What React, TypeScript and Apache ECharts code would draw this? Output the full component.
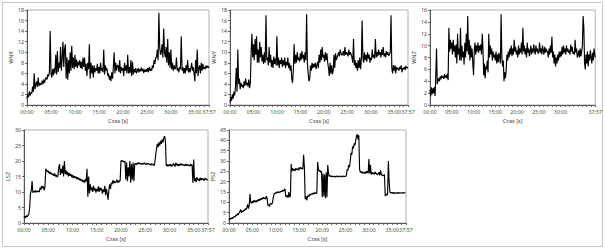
import React, { useEffect, useRef } from "react";
import * as echarts from "echarts";

const STEP = 10; // seconds between samples
const END = 2277; // 37:57
const xLabelValues = [0, 300, 600, 900, 1200, 1500, 1800, 2100, 2277];
const xLabelValuesZ = [0, 300, 600, 900, 1200, 1500, 1800, 2277];

const wnx = [
  1.2, 2.0, 1.5, 2.6, 1.8, 2.4,
  2.2, 3.5, 2.5, 6.0, 3.0, 3.8,
  4.5, 3.4, 5.2, 3.6, 4.2, 3.8,
  4.0, 4.6, 3.9, 4.8, 4.2, 5.0,
  5.2, 4.8, 5.8, 5.4, 6.2, 14.0,
  6.0, 5.2, 6.8, 5.6, 7.0, 6.0,
  9.5, 5.8, 10.2, 6.2, 8.0, 7.0,
  11.0, 6.5, 9.0, 12.0, 7.2, 10.5,
  11.5, 5.0, 9.0, 4.8, 8.5, 6.0,
  10.0, 6.5, 11.2, 7.0, 9.0, 6.8,
  9.5, 7.2, 8.6, 7.0, 8.2, 7.5,
  8.5, 7.0, 8.2, 6.8, 9.0, 7.2,
  9.0, 6.5, 7.8, 5.5, 8.0, 6.8,
  11.5, 5.0, 8.0, 6.0, 7.5, 5.2,
  7.5, 6.2, 7.0, 6.5, 7.8, 6.0,
  7.2, 6.0, 8.0, 6.5, 7.0, 6.2,
  10.5, 5.8, 7.5, 6.5, 7.0, 5.5,
  6.0, 4.8, 5.5, 4.5, 6.2, 5.0,
  7.0, 10.0, 6.0, 8.0, 6.5, 7.5,
  7.5, 6.2, 8.5, 6.0, 7.2, 6.5,
  7.0, 5.5, 8.0, 6.5, 7.5, 6.0,
  9.5, 6.0, 7.2, 6.0, 8.5, 5.5,
  8.2, 5.8, 6.8, 6.2, 7.0, 6.0,
  6.5, 7.0, 6.2, 6.8, 6.4, 7.1,
  6.4, 6.9, 6.1, 6.7, 6.3, 6.8,
  6.3, 7.0, 6.2, 7.2, 6.5, 6.9,
  6.5, 7.5, 7.0, 8.5, 7.8, 9.0,
  9.0, 10.5, 8.5, 17.5, 11.0, 9.5,
  10.0, 11.5, 9.0, 14.5, 10.0, 9.0,
  11.0, 8.0, 12.5, 7.5, 10.0, 7.0,
  10.5, 6.8, 8.0, 6.5, 7.5, 6.8,
  7.0, 9.0, 6.5, 7.0, 6.2, 7.2,
  6.8, 13.0, 6.5, 7.2, 6.0, 7.0,
  6.0, 7.5, 6.5, 8.5, 6.2, 7.0,
  6.2, 7.0, 8.0, 6.5, 7.2, 6.0,
  4.5, 8.5, 6.0, 10.5, 5.5, 7.0,
  7.5, 6.0, 8.0, 6.5, 7.8, 6.8,
  7.2, 6.8, 7.5, 7.0, 7.4, 7.2,
  7.0,
];

const wny = [
  0.5, 1.5, 0.8, 2.0, 1.2, 2.5,
  1.8, 3.5, 7.0, 2.5, 10.5, 4.0,
  5.0, 3.0, 4.2, 3.5, 3.8, 3.2,
  4.5, 3.6, 5.0, 3.8, 4.2, 3.5,
  4.8, 3.2, 4.0, 10.0, 13.5, 9.0,
  11.5, 8.5, 12.5, 9.5, 13.0, 8.0,
  10.5, 8.0, 12.0, 9.0, 11.0, 8.2,
  9.5, 7.8, 10.0, 8.0, 17.0, 8.5,
  9.0, 7.5, 11.0, 8.0, 9.5, 7.2,
  8.5, 7.0, 9.2, 7.8, 8.8, 7.5,
  13.0, 7.5, 9.0, 7.0, 8.5, 7.8,
  9.0, 7.2, 8.5, 7.5, 9.0, 7.0,
  8.2, 7.5, 9.0, 7.0, 8.0, 6.5,
  7.5, 5.0, 4.2, 6.5, 11.5, 7.8,
  9.5, 8.0, 10.0, 8.5, 9.0, 8.2,
  9.8, 8.5, 10.2, 8.8, 9.5, 8.0,
  10.0, 8.5, 17.2, 8.0, 6.0, 4.5,
  5.0, 7.5, 6.5, 8.0, 7.0, 7.8,
  7.2, 8.0, 6.8, 7.5, 8.2, 7.0,
  9.5, 8.0, 10.5, 8.5, 11.0, 9.0,
  9.5, 8.2, 10.0, 8.5, 9.8, 8.0,
  7.0, 5.5, 8.0, 6.0, 7.5, 5.8,
  6.5, 9.5, 7.0, 9.8, 8.5, 9.0,
  9.5, 10.0, 9.2, 10.5, 9.8, 9.4,
  9.6, 10.2, 9.3, 11.0, 9.5, 10.0,
  9.8, 9.2, 10.5, 9.5, 10.0, 9.6,
  9.0, 8.0, 12.5, 7.5, 8.5, 7.0,
  8.0, 6.5, 8.5, 7.0, 9.0, 6.8,
  8.5, 16.0, 9.0, 8.0, 10.0, 8.5,
  9.5, 8.2, 10.0, 8.8, 9.5, 8.0,
  9.0, 8.5, 10.5, 9.0, 9.5, 8.8,
  12.5, 9.0, 10.0, 9.2, 10.5, 9.5,
  10.0, 9.0, 10.5, 9.5, 11.0, 9.2,
  9.8, 9.0, 10.2, 9.5, 10.0, 9.3,
  9.6, 10.0, 17.0, 7.0, 6.0, 7.5,
  6.5, 7.5, 6.0, 7.2, 6.8, 7.0,
  6.5, 7.2, 6.8, 7.5, 6.2, 7.0,
  6.8, 7.2, 6.6, 7.4, 7.0, 7.1,
  7.0,
];

const wnz = [
  2.5, 1.5, 3.0, 1.8, 2.8, 2.0,
  3.0, 1.5, 5.0, 9.5, 3.5, 4.2,
  4.5, 4.0, 4.8, 4.3, 5.0, 4.6,
  4.8, 4.4, 5.2, 4.6, 5.0, 4.5,
  5.3, 4.2, 13.0, 9.0, 11.0, 9.5,
  10.5, 8.5, 11.0, 9.0, 10.0, 8.0,
  10.2, 7.0, 12.0, 8.5, 9.5, 7.5,
  13.0, 7.5, 10.0, 8.0, 9.0, 6.8,
  10.5, 8.0, 12.0, 9.0, 15.0, 8.5,
  11.0, 7.5, 10.0, 8.0, 9.5, 7.0,
  5.0, 9.0, 10.5, 8.5, 10.0, 9.0,
  10.5, 8.8, 10.0, 9.2, 10.2, 8.5,
  12.0, 9.5, 5.0, 7.0, 4.5, 6.5,
  6.0, 7.5, 5.5, 12.0, 8.0, 10.0,
  8.5, 9.5, 7.5, 9.0, 8.0, 8.5,
  7.5, 9.0, 7.0, 8.5, 7.2, 8.8,
  8.0, 7.0, 15.3, 8.0, 6.5, 7.5,
  4.0, 5.5, 4.5, 6.0, 8.5, 7.5,
  9.0, 8.0, 9.5, 8.5, 10.0, 8.2,
  9.5, 8.5, 11.0, 9.0, 9.8, 8.5,
  9.2, 8.0, 10.0, 8.5, 9.5, 8.8,
  10.5, 8.5, 13.0, 9.0, 10.0, 8.5,
  9.5, 8.0, 10.5, 8.8, 9.5, 8.2,
  9.0, 10.0, 8.5, 9.5, 8.8, 10.2,
  9.2, 8.5, 10.0, 9.0, 9.5, 8.6,
  9.0, 10.5, 8.8, 9.5, 8.5, 10.0,
  9.2, 8.5, 9.8, 8.8, 9.5, 9.0,
  9.0, 8.0, 9.5, 8.5, 10.0, 8.8,
  11.5, 8.0, 9.0, 7.0, 8.5, 6.5,
  8.0, 7.0, 8.5, 7.5, 9.0, 8.0,
  9.0, 8.2, 9.8, 8.5, 10.0, 8.8,
  9.5, 8.5, 10.0, 9.0, 9.5, 8.8,
  9.2, 8.5, 10.2, 9.0, 9.8, 8.6,
  9.0, 8.5, 11.0, 8.8, 9.5, 8.0,
  8.5, 9.2, 8.0, 9.5, 8.2, 9.0,
  10.0, 15.0, 13.0, 7.0, 6.0, 8.5,
  7.0, 9.0, 6.5, 8.5, 7.5, 9.2,
  8.0, 7.0, 8.8, 7.5, 9.5, 8.5,
  8.0,
];

const lsz = [
  1.8, 2.2, 1.6, 2.4, 2.0, 2.5,
  3.0, 5.0, 9.5, 10.5, 13.5, 9.8,
  10.2, 10.0, 10.5, 9.8, 10.4, 10.1,
  10.3, 10.0, 11.5, 10.8, 12.0, 11.2,
  11.8, 10.5, 12.0, 17.5, 17.0, 16.5,
  16.8, 16.0, 16.5, 15.8, 16.2, 15.5,
  15.8, 15.2, 16.0, 15.0, 15.5, 14.8,
  15.2, 18.0, 19.0, 15.5, 17.5, 16.0,
  18.5, 15.0, 20.0, 15.8, 17.0, 15.5,
  16.5, 15.0, 16.2, 15.2, 15.8, 14.8,
  15.5, 14.5, 15.2, 14.6, 15.0, 14.2,
  14.8, 14.0, 14.5, 13.8, 14.2, 13.5,
  14.0, 13.2, 13.8, 13.0, 14.2, 13.4,
  17.5, 8.5, 15.0, 9.5, 12.5, 10.5,
  11.5, 10.0, 12.0, 10.5, 11.2, 9.8,
  11.0, 10.2, 11.8, 10.0, 11.5, 10.5,
  11.2, 9.5, 10.8, 10.0, 12.0, 9.0,
  11.0, 9.5, 7.5, 10.5, 12.5, 11.0,
  13.0, 12.5, 13.8, 12.8, 13.5, 13.0,
  13.2, 14.0, 13.0, 13.6, 13.2, 13.8,
  20.0, 20.2, 19.8, 20.0, 19.5, 20.0,
  14.0, 19.5, 13.5, 18.0, 15.0, 20.0,
  13.0, 19.0, 14.0, 19.5, 13.5, 19.0,
  19.2, 18.8, 19.4, 19.0, 19.5, 19.1,
  19.0, 19.3, 18.9, 19.2, 19.0, 19.4,
  19.1, 18.8, 19.3, 19.0, 19.2, 18.9,
  19.0, 18.6, 19.2, 18.8, 19.0, 18.5,
  19.5, 22.0, 24.0, 25.5, 24.5, 26.0,
  25.0, 26.5, 25.5, 27.0, 26.0, 27.5,
  28.0, 26.5, 18.5, 19.0, 18.2, 18.8,
  18.5, 19.0, 18.2, 18.8, 18.4, 19.2,
  18.8, 18.2, 19.5, 18.6, 19.0, 18.4,
  19.0, 18.5, 19.2, 18.7, 19.0, 18.6,
  18.8, 18.4, 19.0, 18.6, 18.9, 18.5,
  18.7, 18.3, 19.0, 18.5, 18.8, 13.0,
  20.5, 13.5, 14.5, 13.2, 14.8, 13.8,
  14.2, 13.5, 14.6, 13.8, 14.4, 14.0,
  14.3, 13.6, 14.5, 14.0, 14.2, 13.8,
  14.0,
];

const psz = [
  1.5, 2.2, 1.8, 2.5, 2.0, 2.8,
  2.5, 3.2, 3.0, 4.0, 3.5, 4.5,
  4.0, 5.0, 5.5, 6.5, 5.0, 5.8,
  5.5, 6.2, 6.0, 7.0, 6.5, 7.5,
  9.0, 7.0, 8.5, 14.0, 10.0, 9.5,
  10.5, 9.8, 11.0, 10.2, 10.8, 10.0,
  11.0, 10.5, 11.5, 10.8, 11.8, 11.2,
  12.0, 11.5, 12.5, 11.8, 12.2, 11.5,
  13.0, 12.0, 8.5, 9.0, 8.0, 9.2,
  9.5, 9.0, 10.0, 12.5, 14.0, 14.5,
  14.2, 14.8, 15.0, 14.6, 15.2, 14.8,
  15.0, 15.4, 15.2, 15.8, 15.4, 16.0,
  16.5, 13.0, 12.5, 13.5, 12.2, 15.0,
  12.5, 13.2, 28.5, 25.0, 26.5, 25.5,
  26.0, 25.2, 26.5, 25.8, 26.2, 25.5,
  26.8, 26.0, 27.0, 26.2, 26.6, 26.0,
  33.0, 27.0, 11.5, 13.0, 11.0, 12.5,
  13.5, 12.8, 14.0, 13.5, 14.2, 13.8,
  14.5, 14.0, 14.8, 14.2, 14.6, 14.3,
  29.5, 26.0, 25.0, 25.5, 24.5, 25.0,
  12.5, 24.0, 13.0, 23.5, 12.0, 24.5,
  12.5, 28.0, 24.0, 22.5, 23.0, 22.4,
  22.8, 22.3, 22.6, 22.4, 22.7, 22.2,
  22.5, 22.8, 22.3, 22.6, 22.4, 22.7,
  22.6, 22.2, 22.5, 22.8, 22.4, 22.6,
  22.5, 23.0, 26.0, 25.5, 28.0, 27.0,
  30.0, 34.0, 33.0, 37.0, 36.0, 38.5,
  37.5, 40.0, 42.0, 43.0, 40.5, 42.5,
  26.0, 24.5, 25.0, 24.0, 24.8, 24.2,
  24.5, 23.8, 25.0, 24.2, 25.0, 24.0,
  31.0, 24.0, 28.0, 23.5, 24.5, 23.8,
  24.2, 23.5, 24.8, 23.8, 24.0, 23.2,
  23.8, 24.5, 23.0, 25.5, 23.5, 23.0,
  23.2, 22.8, 23.5, 13.0, 14.0, 13.5,
  14.0, 30.0, 20.0, 15.0, 14.5, 14.8,
  14.5, 14.8, 14.2, 14.6, 14.4, 14.7,
  14.5, 14.3, 14.8, 14.4, 14.6, 14.5,
  14.6, 14.4, 14.7, 14.5, 14.6, 14.5,
  14.5,
];

const yNames = ["WNX", "WNY", "WNZ", "LSZ", "PSZ"];
const yMaxes = [18, 18, 16, 30, 45];
const yIntervals = [2, 2, 2, 5, 5];
const seriesValues = [wnx, wny, wnz, lsz, psz];

const grids = [
  { left: 27, top: 10, width: 182, height: 95 },
  { left: 230, top: 10, width: 178, height: 95 },
  { left: 430, top: 10, width: 171, height: 95 },
  { left: 24, top: 130, width: 184, height: 93 },
  { left: 229, top: 130, width: 177, height: 93 },
];

const pad = (n: number) => (n < 10 ? "0" + n : "" + n);
const fmt = (v: number) => pad(Math.floor(v / 60)) + ":" + pad(Math.round(v % 60));
const FONT = "Noto Sans";
const TICK_FS = 5.3;
const NAME_FS = 5.6;

const tickValues: number[] = [];
for (let t = 0; t <= END; t += 60) tickValues.push(t);
tickValues.push(END);

export default function App() {
  const ref = useRef<HTMLDivElement>(null);
  useEffect(() => {
    if (!ref.current) return;
    const chart = echarts.init(ref.current, undefined, { renderer: "svg" });
    const option: any = {
      animation: false,
      backgroundColor: "#ffffff",
      textStyle: { fontFamily: FONT },
      graphic: [
        {
          type: "rect",
          shape: { x: 2.5, y: 2.5, width: 600, height: 244 },
          style: { fill: "none", stroke: "#c8c8c8", lineWidth: 1 },
          silent: true,
        },
      ],
      grid: grids.map((g) => ({
        ...g,
        show: true,
        borderColor: "#b0b0b0",
        borderWidth: 1,
        backgroundColor: "#ffffff",
        containLabel: false,
      })),
      xAxis: grids.map((_, i) => ({
        type: "value",
        gridIndex: i,
        min: 0,
        max: END,
        name: "Czas [s]",
        nameLocation: "middle",
        nameGap: 13,
        nameTextStyle: { fontSize: NAME_FS, color: "#444", fontFamily: FONT },
        axisLine: { show: true, onZero: false, lineStyle: { color: "#555", width: 1 } },
        axisTick: {
          show: true,
          length: 2,
          customValues: tickValues,
          lineStyle: { color: "#666" },
        },
        axisLabel: {
          show: true,
          customValues: i === 2 ? xLabelValuesZ : xLabelValues,
          showMinLabel: true,
          showMaxLabel: true,
          hideOverlap: false,
          formatter: (v: number) => fmt(v),
          fontSize: TICK_FS,
          color: "#3f5a2c",
          margin: 4,
          fontFamily: FONT,
        },
        splitLine: { show: false },
      })),
      yAxis: grids.map((_, i) => ({
        type: "value",
        gridIndex: i,
        min: 0,
        max: yMaxes[i],
        interval: yIntervals[i],
        name: yNames[i],
        nameLocation: "middle",
        nameGap: i >= 3 ? 12 : 11.5,
        nameTextStyle: { fontSize: NAME_FS, color: "#444", fontFamily: FONT },
        axisLine: { show: true, lineStyle: { color: "#555", width: 1 } },
        axisTick: { show: true, length: 2, lineStyle: { color: "#666" } },
        axisLabel: { fontSize: TICK_FS, color: "#444", margin: 3, fontFamily: FONT },
        splitLine: { show: false },
      })),
      series: seriesValues.map((vals, i) => ({
        type: "line",
        xAxisIndex: i,
        yAxisIndex: i,
        data: vals.map((v, k) => [Math.min(k * STEP, END), v]),
        showSymbol: false,
        symbol: "none",
        lineStyle: { color: "#000", width: 1.15 },
        silent: true,
      })),
    };
    chart.setOption(option);
    return () => chart.dispose();
  }, []);
  return (
    <div
      ref={ref}
      style={{ position: "fixed", left: 0, top: 0, width: 605, height: 250, background: "#fff" }}
    />
  );
}
